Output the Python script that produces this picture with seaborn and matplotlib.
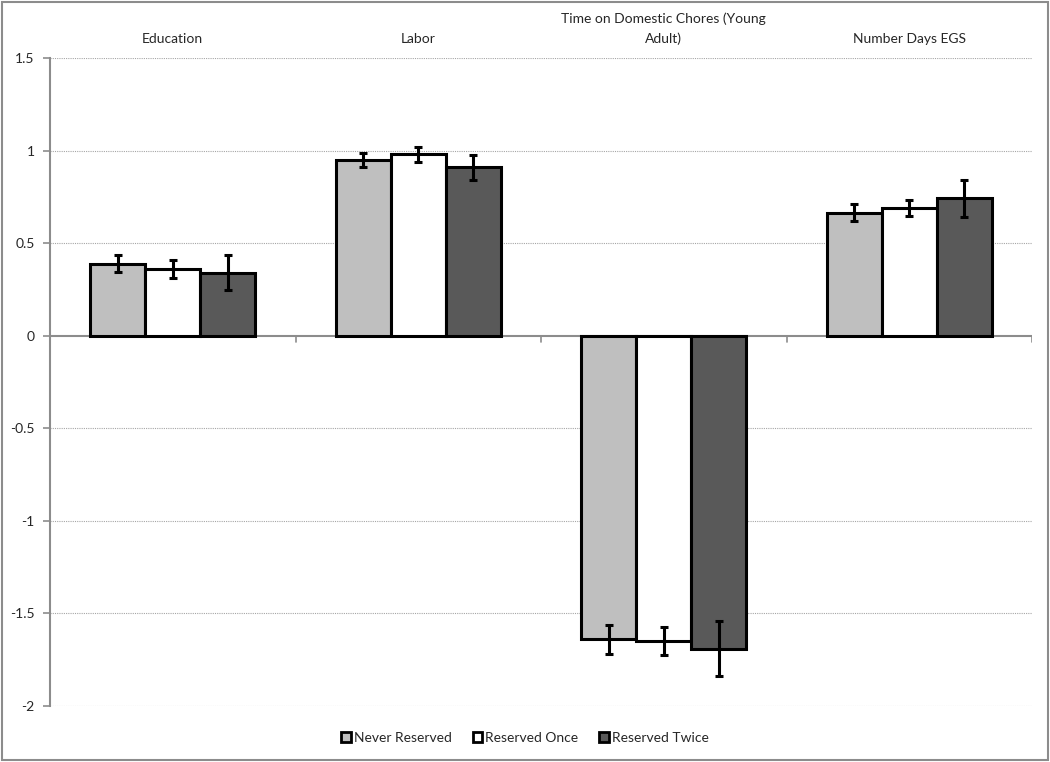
import numpy as np
import pandas as pd
import seaborn as sns
from matplotlib import pyplot as plt
from matplotlib.patches import Patch

categories = ["Education", "Labor", "Time on Domestic Chores (Young\nAdult)", "Number Days EGS"]
groups = ["Never Reserved", "Reserved Once", "Reserved Twice"]

never_reserved = [0.39, 0.95, -1.64, 0.665]
reserved_once = [0.36, 0.98, -1.65, 0.69]
reserved_twice = [0.34, 0.91, -1.69, 0.742]

never_err = [0.045, 0.037, 0.078, 0.047]
once_err = [0.05, 0.04, 0.077, 0.043]
twice_err = [0.095, 0.068, 0.149, 0.10]

colors = ["#BFBFBF", "#FFFFFF", "#595959"]

df = pd.DataFrame({
    "Category": categories * 3,
    "Group": [g for g in groups for _ in categories],
    "Value": never_reserved + reserved_once + reserved_twice,
    "Err": never_err + once_err + twice_err,
})

sns.set_style("white")
plt.rcParams["font.family"] = ["Lato", "DejaVu Sans"]

fig = plt.figure(figsize=(10.5, 7.62), dpi=100)
ax = fig.add_axes([50 / 1050, 1 - 706 / 762, 982 / 1050, 648 / 762])

sns.barplot(data=df, x="Category", y="Value", hue="Group", order=categories, hue_order=groups,
            palette=colors, width=0.672, errorbar=None, edgecolor="black", linewidth=2.2,
            legend=False, ax=ax, zorder=3)

# Error bars placed at bar centres
for container, g in zip(ax.containers, groups):
    sub = df[df["Group"] == g].set_index("Category").loc[categories]
    xs = [p.get_x() + p.get_width() / 2 for p in container.patches]
    ax.errorbar(xs, sub["Value"], yerr=sub["Err"], fmt="none", ecolor="black",
                elinewidth=2.2, capsize=3.2, capthick=2.2, zorder=4)

ax.set_ylim(-2, 1.5)
ax.set_xlim(-0.5, len(categories) - 0.5)
ax.set_yticks(np.arange(-2, 1.51, 0.5))
ax.set_yticklabels(["-2", "-1.5", "-1", "-0.5", "0", "0.5", "1", "1.5"], fontsize=10)

# Gridlines
for yv in np.arange(-2, 1.51, 0.5):
    if yv != 0:
        ax.axhline(yv, color="#A6A6A6", lw=0.8, ls=(0, (1, 1)), zorder=1)
ax.axhline(0, color="#8C8C8C", lw=1.5, zorder=2)
for b in np.arange(0.5, len(categories), 1.0):
    ax.plot([b, b], [0, -0.035], color="#8C8C8C", lw=1.2, zorder=2)

# Category labels on top
ax.xaxis.tick_top()
ax.set_xticks(range(len(categories)))
ax.set_xticklabels(categories, fontsize=10, linespacing=1.75)
ax.tick_params(axis="x", length=0, pad=9)
ax.tick_params(axis="y", length=5, width=1.2, color="#8C8C8C", left=True, pad=6)
ax.set_xlabel("")
ax.set_ylabel("")

for s in ["top", "right", "bottom"]:
    ax.spines[s].set_visible(False)
ax.spines["left"].set_color("#8C8C8C")
ax.spines["left"].set_linewidth(1.5)

handles = [Patch(facecolor=c, edgecolor="black", linewidth=2) for c in colors]
fig.legend(handles, groups, loc="center", bbox_to_anchor=(0.5, 1 - 738 / 762), ncol=3,
           frameon=False, fontsize=10, handlelength=0.7, handleheight=0.7, handletextpad=0.2,
           columnspacing=1.5)

fig.patches.append(plt.Rectangle((0.002, 0.003), 0.996, 0.994, transform=fig.transFigure,
                                 fill=False, edgecolor="#8C8C8C", linewidth=1.5))

fig.savefig("out.png", dpi=100)
